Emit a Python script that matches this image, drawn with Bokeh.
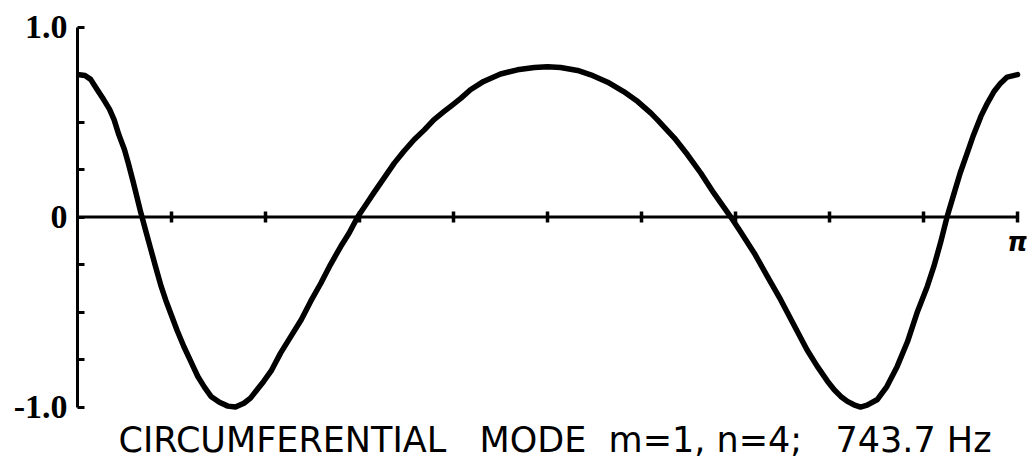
import numpy as np
from bokeh.plotting import figure
from bokeh.models import FixedTicker, Label, Range1d
from bokeh.core.properties import value
from bokeh.embed import file_html
from bokeh.resources import INLINE

# Mode shape along the circumference, angle given as a fraction of pi
theta_frac = [0.000, 0.008, 0.014, 0.021, 0.028, 0.034, 0.039, 0.044, 0.050,
              0.054, 0.059, 0.063, 0.067, 0.073, 0.078, 0.083, 0.089, 0.094,
              0.099, 0.106, 0.113, 0.121, 0.128, 0.135, 0.142, 0.151, 0.160,
              0.168, 0.177, 0.184, 0.191, 0.198, 0.206, 0.216, 0.227, 0.238,
              0.248, 0.259, 0.269, 0.280, 0.289, 0.298, 0.308, 0.315, 0.326,
              0.337, 0.347, 0.358, 0.369, 0.379, 0.390, 0.397, 0.408, 0.418,
              0.432, 0.450, 0.468, 0.486, 0.500, 0.514, 0.532, 0.546, 0.564,
              0.581, 0.596, 0.610, 0.617, 0.635, 0.649, 0.663, 0.677, 0.695,
              0.705, 0.720, 0.734, 0.748, 0.762, 0.776, 0.787, 0.798, 0.805,
              0.812, 0.819, 0.826, 0.833, 0.840, 0.851, 0.861, 0.872, 0.883,
              0.893, 0.904, 0.911, 0.918, 0.925, 0.932, 0.939, 0.947, 0.953,
              0.961, 0.968, 0.975, 0.982, 0.989, 1.000]
amplitude = [0.750, 0.745, 0.725, 0.670, 0.617, 0.568, 0.512, 0.433, 0.354,
             0.285, 0.190, 0.110, 0.030, -0.080, -0.170, -0.260, -0.365, -0.439,
             -0.505, -0.597, -0.680, -0.765, -0.839, -0.895, -0.944, -0.975, -0.995,
             -1.000, -0.980, -0.953, -0.909, -0.865, -0.810, -0.716, -0.628, -0.540,
             -0.444, -0.347, -0.251, -0.155, -0.084, 0.000, 0.074, 0.126, 0.205,
             0.284, 0.345, 0.407, 0.459, 0.512, 0.556, 0.583, 0.626, 0.670,
             0.714, 0.753, 0.775, 0.787, 0.791, 0.787, 0.772, 0.749, 0.710,
             0.661, 0.608, 0.547, 0.512, 0.416, 0.328, 0.232, 0.126, 0.000,
             -0.075, -0.190, -0.313, -0.435, -0.567, -0.698, -0.786, -0.865, -0.909,
             -0.944, -0.970, -0.988, -1.000, -0.990, -0.960, -0.892, -0.786, -0.655,
             -0.505, -0.365, -0.260, -0.137, 0.000, 0.117, 0.232, 0.345, 0.430,
             0.530, 0.600, 0.661, 0.705, 0.737, 0.750]

# Axis ticks
x_tick_frac = [0.1, 0.2, 0.3, 0.4, 0.5, 0.6, 0.7, 0.8, 0.9, 1.0]
y_major = [-1.0, 0.0, 1.0]
y_minor = [-0.75, -0.5, -0.25, 0.25, 0.5, 0.75]
y_labels = {1: "1.0", 0: "0", -1: "-1.0"}
x_end_label = "π"
nb = "\u00a0"
caption = ("CIRCUMFERENTIAL" + nb * 3 + "MODE" + nb * 2 + "m=1," + nb +
           "n=4;" + nb * 3 + "743.7" + nb + "Hz")

theta = np.array(theta_frac) * np.pi
x_ticks = np.array(x_tick_frac) * np.pi

p = figure(frame_width=949, frame_height=444,
           min_border_left=77, min_border_right=7,
           min_border_top=19, min_border_bottom=0,
           x_range=Range1d(0, np.pi + 0.03), y_range=Range1d(-1.297, 1.04),
           x_axis_location=None, toolbar_location=None,
           output_backend="svg", background_fill_color="white",
           border_fill_color="white")
p.outline_line_color = None
p.grid.visible = False

# vertical axis with inward ticks
ax = p.yaxis[0]
ax.bounds = (-1, 1)
ax.ticker = FixedTicker(ticks=y_major, minor_ticks=y_minor)
ax.major_label_overrides = y_labels
ax.axis_line_width = 3
ax.axis_line_color = "black"
ax.major_tick_in = 7
ax.major_tick_out = 0
ax.major_tick_line_width = 3
ax.minor_tick_in = 7
ax.minor_tick_out = 0
ax.minor_tick_line_width = 3
ax.major_label_standoff = 10
ax.major_label_text_font = "Liberation Serif"
ax.major_label_text_font_size = "34px"
ax.major_label_text_font_style = "bold"
ax.major_label_text_color = "black"

# horizontal zero line with its tick marks
p.segment(x0=[0], y0=[0], x1=[x_ticks[-1]], y1=[0], line_width=3, line_color="black")
p.scatter(x=x_ticks, y=np.zeros_like(x_ticks), marker="dash", angle=np.pi / 2,
          size=11, line_width=3.5, line_color="black")

# the mode shape
p.line(theta, amplitude, line_width=5.5, line_color="black", line_join="round",
       line_cap="round")

p.add_layout(Label(x=x_ticks[-1], y=0, text=x_end_label, y_offset=-10,
                   text_align="center", text_baseline="top",
                   text_font="DejaVu Sans", text_font_style="bold italic",
                   text_font_size="26px", text_color="black"))

p.text(x=[0.508 * np.pi], y=[-1.172], text=[caption],
       text_align="center", text_baseline="alphabetic",
       text_font=value("DejaVu Sans"), text_font_size="35px",
       text_color="black")

open("out.html", "w").write(file_html(p, INLINE))
